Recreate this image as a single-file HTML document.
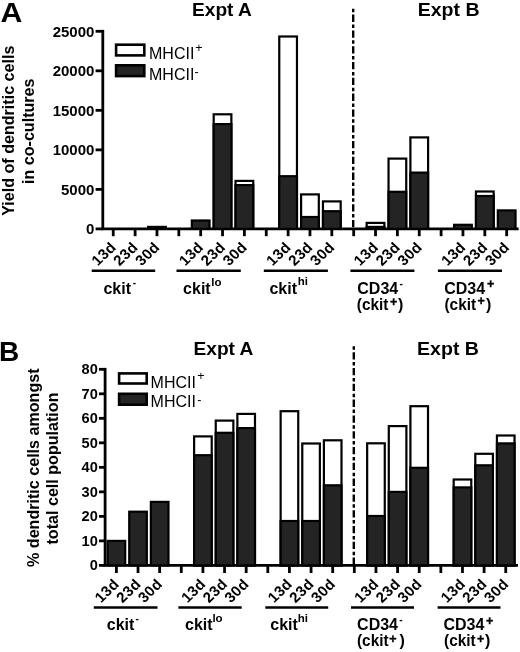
<!DOCTYPE html>
<html><head><meta charset="utf-8"><style>
html,body{margin:0;padding:0;background:#fff;}
svg{display:block;filter:grayscale(1);}
text{font-family:"Liberation Sans",sans-serif;fill:#000;}
.yl{font-weight:bold;font-size:15px;}
.yl2{font-weight:bold;font-size:14.6px;}
.xl{font-weight:bold;font-size:14.5px;letter-spacing:0.3px;}
.lg{font-size:15.4px;}
.sup{font-size:12.5px;}
.big{font-weight:bold;font-size:28px;}
.ex{font-weight:bold;font-size:18px;}
.yt{font-weight:bold;font-size:16.1px;}
.gl{font-weight:bold;font-size:16px;}
.gsup{font-size:11.5px;font-weight:bold;}
.gminus{font-size:10px;font-weight:bold;}
.gplus{font-size:12.5px;font-weight:bold;stroke:#000;stroke-width:0.35px;}
</style></head><body>
<svg width="520" height="652" viewBox="0 0 520 652">
<line x1="102.8" y1="29.900000000000002" x2="102.8" y2="228.9" stroke="#000" stroke-width="2.8"/>
<line x1="101.39999999999999" y1="228.9" x2="518.6" y2="228.9" stroke="#000" stroke-width="2.9"/>
<line x1="95.6" y1="228.90" x2="102.8" y2="228.90" stroke="#000" stroke-width="2.8"/>
<text x="94.4" y="234.20" text-anchor="end" class="yl">0</text>
<line x1="95.6" y1="189.38" x2="102.8" y2="189.38" stroke="#000" stroke-width="2.8"/>
<text x="94.4" y="194.68" text-anchor="end" class="yl">5000</text>
<line x1="95.6" y1="149.86" x2="102.8" y2="149.86" stroke="#000" stroke-width="2.8"/>
<text x="94.4" y="155.16" text-anchor="end" class="yl">10000</text>
<line x1="95.6" y1="110.34" x2="102.8" y2="110.34" stroke="#000" stroke-width="2.8"/>
<text x="94.4" y="115.64" text-anchor="end" class="yl">15000</text>
<line x1="95.6" y1="70.82" x2="102.8" y2="70.82" stroke="#000" stroke-width="2.8"/>
<text x="94.4" y="76.12" text-anchor="end" class="yl">20000</text>
<line x1="95.6" y1="31.30" x2="102.8" y2="31.30" stroke="#000" stroke-width="2.8"/>
<text x="94.4" y="36.60" text-anchor="end" class="yl">25000</text>
<rect x="104.40" y="228.90" width="17.70" height="-0.00" fill="#242424" stroke="#000" stroke-width="2.2"/>
<rect x="126.26" y="228.90" width="17.70" height="-0.00" fill="#242424" stroke="#000" stroke-width="2.2"/>
<rect x="148.11" y="226.90" width="17.70" height="2.00" fill="#242424" stroke="#000" stroke-width="2.2"/>
<rect x="191.83" y="220.50" width="17.70" height="8.40" fill="#242424" stroke="#000" stroke-width="2.2"/>
<rect x="213.68" y="114.30" width="17.70" height="114.60" fill="#fff" stroke="#000" stroke-width="2.2"/>
<rect x="213.68" y="124.10" width="17.70" height="104.80" fill="#242424" stroke="#000" stroke-width="2.2"/>
<rect x="235.54" y="180.90" width="17.70" height="48.00" fill="#fff" stroke="#000" stroke-width="2.2"/>
<rect x="235.54" y="185.10" width="17.70" height="43.80" fill="#242424" stroke="#000" stroke-width="2.2"/>
<rect x="279.26" y="36.50" width="17.70" height="192.40" fill="#fff" stroke="#000" stroke-width="2.2"/>
<rect x="279.26" y="176.20" width="17.70" height="52.70" fill="#242424" stroke="#000" stroke-width="2.2"/>
<rect x="301.11" y="194.40" width="17.70" height="34.50" fill="#fff" stroke="#000" stroke-width="2.2"/>
<rect x="301.11" y="217.00" width="17.70" height="11.90" fill="#242424" stroke="#000" stroke-width="2.2"/>
<rect x="322.97" y="201.40" width="17.70" height="27.50" fill="#fff" stroke="#000" stroke-width="2.2"/>
<rect x="322.97" y="211.20" width="17.70" height="17.70" fill="#242424" stroke="#000" stroke-width="2.2"/>
<rect x="366.68" y="222.90" width="17.70" height="6.00" fill="#fff" stroke="#000" stroke-width="2.2"/>
<rect x="366.68" y="226.90" width="17.70" height="2.00" fill="#242424" stroke="#000" stroke-width="2.2"/>
<rect x="388.54" y="158.60" width="17.70" height="70.30" fill="#fff" stroke="#000" stroke-width="2.2"/>
<rect x="388.54" y="191.80" width="17.70" height="37.10" fill="#242424" stroke="#000" stroke-width="2.2"/>
<rect x="410.40" y="137.40" width="17.70" height="91.50" fill="#fff" stroke="#000" stroke-width="2.2"/>
<rect x="410.40" y="172.60" width="17.70" height="56.30" fill="#242424" stroke="#000" stroke-width="2.2"/>
<rect x="454.11" y="224.80" width="17.70" height="4.10" fill="#242424" stroke="#000" stroke-width="2.2"/>
<rect x="475.97" y="191.50" width="17.70" height="37.40" fill="#fff" stroke="#000" stroke-width="2.2"/>
<rect x="475.97" y="196.00" width="17.70" height="32.90" fill="#242424" stroke="#000" stroke-width="2.2"/>
<rect x="497.83" y="210.40" width="17.70" height="18.50" fill="#242424" stroke="#000" stroke-width="2.2"/>
<line x1="113.25" y1="228.9" x2="113.25" y2="236.2" stroke="#000" stroke-width="2.8"/>
<line x1="135.11" y1="228.9" x2="135.11" y2="236.2" stroke="#000" stroke-width="2.8"/>
<line x1="156.96" y1="228.9" x2="156.96" y2="236.2" stroke="#000" stroke-width="2.8"/>
<line x1="178.82" y1="228.9" x2="178.82" y2="236.2" stroke="#000" stroke-width="2.8"/>
<line x1="200.68" y1="228.9" x2="200.68" y2="236.2" stroke="#000" stroke-width="2.8"/>
<line x1="222.53" y1="228.9" x2="222.53" y2="236.2" stroke="#000" stroke-width="2.8"/>
<line x1="244.39" y1="228.9" x2="244.39" y2="236.2" stroke="#000" stroke-width="2.8"/>
<line x1="266.25" y1="228.9" x2="266.25" y2="236.2" stroke="#000" stroke-width="2.8"/>
<line x1="288.11" y1="228.9" x2="288.11" y2="236.2" stroke="#000" stroke-width="2.8"/>
<line x1="309.96" y1="228.9" x2="309.96" y2="236.2" stroke="#000" stroke-width="2.8"/>
<line x1="331.82" y1="228.9" x2="331.82" y2="236.2" stroke="#000" stroke-width="2.8"/>
<line x1="353.68" y1="228.9" x2="353.68" y2="236.2" stroke="#000" stroke-width="2.8"/>
<line x1="375.53" y1="228.9" x2="375.53" y2="236.2" stroke="#000" stroke-width="2.8"/>
<line x1="397.39" y1="228.9" x2="397.39" y2="236.2" stroke="#000" stroke-width="2.8"/>
<line x1="419.25" y1="228.9" x2="419.25" y2="236.2" stroke="#000" stroke-width="2.8"/>
<line x1="441.11" y1="228.9" x2="441.11" y2="236.2" stroke="#000" stroke-width="2.8"/>
<line x1="462.96" y1="228.9" x2="462.96" y2="236.2" stroke="#000" stroke-width="2.8"/>
<line x1="484.82" y1="228.9" x2="484.82" y2="236.2" stroke="#000" stroke-width="2.8"/>
<line x1="506.68" y1="228.9" x2="506.68" y2="236.2" stroke="#000" stroke-width="2.8"/>
<text transform="translate(116.95,248.20) scale(1.05,1) rotate(-45)" text-anchor="end" class="xl">13d</text>
<text transform="translate(138.81,248.20) scale(1.05,1) rotate(-45)" text-anchor="end" class="xl">23d</text>
<text transform="translate(160.66,248.20) scale(1.05,1) rotate(-45)" text-anchor="end" class="xl">30d</text>
<text transform="translate(204.38,248.20) scale(1.05,1) rotate(-45)" text-anchor="end" class="xl">13d</text>
<text transform="translate(226.23,248.20) scale(1.05,1) rotate(-45)" text-anchor="end" class="xl">23d</text>
<text transform="translate(248.09,248.20) scale(1.05,1) rotate(-45)" text-anchor="end" class="xl">30d</text>
<text transform="translate(291.81,248.20) scale(1.05,1) rotate(-45)" text-anchor="end" class="xl">13d</text>
<text transform="translate(313.66,248.20) scale(1.05,1) rotate(-45)" text-anchor="end" class="xl">23d</text>
<text transform="translate(335.52,248.20) scale(1.05,1) rotate(-45)" text-anchor="end" class="xl">30d</text>
<text transform="translate(379.23,248.20) scale(1.05,1) rotate(-45)" text-anchor="end" class="xl">13d</text>
<text transform="translate(401.09,248.20) scale(1.05,1) rotate(-45)" text-anchor="end" class="xl">23d</text>
<text transform="translate(422.95,248.20) scale(1.05,1) rotate(-45)" text-anchor="end" class="xl">30d</text>
<text transform="translate(466.66,248.20) scale(1.05,1) rotate(-45)" text-anchor="end" class="xl">13d</text>
<text transform="translate(488.52,248.20) scale(1.05,1) rotate(-45)" text-anchor="end" class="xl">23d</text>
<text transform="translate(510.38,248.20) scale(1.05,1) rotate(-45)" text-anchor="end" class="xl">30d</text>
<line x1="91.7" y1="270.8" x2="155.2" y2="270.8" stroke="#000" stroke-width="2.5"/>
<line x1="176.5" y1="270.8" x2="240.8" y2="270.8" stroke="#000" stroke-width="2.5"/>
<line x1="263.8" y1="270.8" x2="327.9" y2="270.8" stroke="#000" stroke-width="2.5"/>
<line x1="350.4" y1="270.8" x2="414.4" y2="270.8" stroke="#000" stroke-width="2.5"/>
<line x1="437.9" y1="270.8" x2="502" y2="270.8" stroke="#000" stroke-width="2.5"/>
<line x1="353.2" y1="8.7" x2="353.2" y2="228.9" stroke="#000" stroke-width="2.4" stroke-dasharray="3.5 2.4 7.3 2.6"/>
<rect x="116.1" y="44.699999999999996" width="28.2" height="10.700000000000005" fill="#fff" stroke="#000" stroke-width="2.6"/>
<rect x="116.1" y="65.3" width="28.2" height="10.800000000000006" fill="#242424" stroke="#000" stroke-width="2.6"/>
<text transform="translate(149.0,59.3) scale(1.0,1)" class="lg" style="font-size:16.0px">MHCII</text>
<text transform="translate(149.0,79.8) scale(1.0,1)" class="lg" style="font-size:16.0px">MHCII</text>
<text x="195.3" y="51.5" class="sup">+</text>
<text x="194.5" y="76" class="sup">-</text>
<text transform="translate(0.4,21.9) scale(1.08,1)" class="big">A</text>
<text transform="translate(192.0,16.4) scale(1.064,1)" class="ex">Expt A</text>
<text transform="translate(417.7,16.4) scale(1.085,1)" class="ex">Expt B</text>
<text transform="translate(14.4,130.75) rotate(-90)" text-anchor="middle" class="yt">Yield of dendritic cells</text>
<text transform="translate(33.7,131.25) rotate(-90)" text-anchor="middle" class="yt">in co-cultures</text>
<text transform="translate(103.4,293.5) scale(1.0,1)" class="gl">ckit</text>
<text transform="translate(183.1,293.5) scale(1.0,1)" class="gl">ckit</text>
<text transform="translate(269.4,293.5) scale(1.0,1)" class="gl">ckit</text>
<text transform="translate(357.3,293.5) scale(1.0,1)" class="gl">CD34</text>
<text transform="translate(444.2,293.5) scale(1.0,1)" class="gl">CD34</text>
<text transform="translate(356.8,310.3) scale(0.96,1)" class="gl">(ckit</text>
<text transform="translate(444.5,310.3) scale(0.96,1)" class="gl">(ckit</text>
<text x="132.7" y="286.3" class="gminus">-</text>
<text x="211.2" y="285.8" class="gsup">lo</text>
<text x="297.8" y="285.3" class="gsup">hi</text>
<text x="399.5" y="286.6" class="gminus">-</text>
<text x="487.0" y="287.6" class="gplus">+</text>
<text x="390.0" y="305.6" class="gplus">+</text>
<text x="477.6" y="305.4" class="gplus">+</text>
<text transform="translate(397.9,310.3) scale(1.0,1)" class="gl">)</text>
<text transform="translate(486.1,310.3) scale(1.0,1)" class="gl">)</text>
<line x1="105.1" y1="367.90000000000003" x2="105.1" y2="565.4" stroke="#000" stroke-width="2.8"/>
<line x1="103.69999999999999" y1="565.4" x2="518.0" y2="565.4" stroke="#000" stroke-width="2.6"/>
<line x1="99.0" y1="565.40" x2="105.1" y2="565.40" stroke="#000" stroke-width="2.8"/>
<text x="97.8" y="570.40" text-anchor="end" class="yl2">0</text>
<line x1="99.0" y1="540.89" x2="105.1" y2="540.89" stroke="#000" stroke-width="2.8"/>
<text x="97.8" y="545.89" text-anchor="end" class="yl2">10</text>
<line x1="99.0" y1="516.38" x2="105.1" y2="516.38" stroke="#000" stroke-width="2.8"/>
<text x="97.8" y="521.38" text-anchor="end" class="yl2">20</text>
<line x1="99.0" y1="491.86" x2="105.1" y2="491.86" stroke="#000" stroke-width="2.8"/>
<text x="97.8" y="496.86" text-anchor="end" class="yl2">30</text>
<line x1="99.0" y1="467.35" x2="105.1" y2="467.35" stroke="#000" stroke-width="2.8"/>
<text x="97.8" y="472.35" text-anchor="end" class="yl2">40</text>
<line x1="99.0" y1="442.84" x2="105.1" y2="442.84" stroke="#000" stroke-width="2.8"/>
<text x="97.8" y="447.84" text-anchor="end" class="yl2">50</text>
<line x1="99.0" y1="418.32" x2="105.1" y2="418.32" stroke="#000" stroke-width="2.8"/>
<text x="97.8" y="423.32" text-anchor="end" class="yl2">60</text>
<line x1="99.0" y1="393.81" x2="105.1" y2="393.81" stroke="#000" stroke-width="2.8"/>
<text x="97.8" y="398.81" text-anchor="end" class="yl2">70</text>
<line x1="99.0" y1="369.30" x2="105.1" y2="369.30" stroke="#000" stroke-width="2.8"/>
<text x="97.8" y="374.30" text-anchor="end" class="yl2">80</text>
<rect x="107.60" y="540.90" width="17.60" height="24.50" fill="#242424" stroke="#000" stroke-width="2.2"/>
<rect x="129.23" y="511.70" width="17.60" height="53.70" fill="#242424" stroke="#000" stroke-width="2.2"/>
<rect x="150.86" y="501.90" width="17.60" height="63.50" fill="#242424" stroke="#000" stroke-width="2.2"/>
<rect x="194.12" y="436.40" width="17.60" height="129.00" fill="#fff" stroke="#000" stroke-width="2.2"/>
<rect x="194.12" y="455.20" width="17.60" height="110.20" fill="#242424" stroke="#000" stroke-width="2.2"/>
<rect x="215.75" y="420.60" width="17.60" height="144.80" fill="#fff" stroke="#000" stroke-width="2.2"/>
<rect x="215.75" y="432.80" width="17.60" height="132.60" fill="#242424" stroke="#000" stroke-width="2.2"/>
<rect x="237.38" y="413.90" width="17.60" height="151.50" fill="#fff" stroke="#000" stroke-width="2.2"/>
<rect x="237.38" y="428.10" width="17.60" height="137.30" fill="#242424" stroke="#000" stroke-width="2.2"/>
<rect x="280.64" y="411.20" width="17.60" height="154.20" fill="#fff" stroke="#000" stroke-width="2.2"/>
<rect x="280.64" y="521.00" width="17.60" height="44.40" fill="#242424" stroke="#000" stroke-width="2.2"/>
<rect x="302.27" y="443.50" width="17.60" height="121.90" fill="#fff" stroke="#000" stroke-width="2.2"/>
<rect x="302.27" y="521.00" width="17.60" height="44.40" fill="#242424" stroke="#000" stroke-width="2.2"/>
<rect x="323.90" y="440.30" width="17.60" height="125.10" fill="#fff" stroke="#000" stroke-width="2.2"/>
<rect x="323.90" y="485.30" width="17.60" height="80.10" fill="#242424" stroke="#000" stroke-width="2.2"/>
<rect x="367.16" y="443.30" width="17.60" height="122.10" fill="#fff" stroke="#000" stroke-width="2.2"/>
<rect x="367.16" y="516.00" width="17.60" height="49.40" fill="#242424" stroke="#000" stroke-width="2.2"/>
<rect x="388.79" y="426.10" width="17.60" height="139.30" fill="#fff" stroke="#000" stroke-width="2.2"/>
<rect x="388.79" y="491.90" width="17.60" height="73.50" fill="#242424" stroke="#000" stroke-width="2.2"/>
<rect x="410.42" y="406.20" width="17.60" height="159.20" fill="#fff" stroke="#000" stroke-width="2.2"/>
<rect x="410.42" y="467.80" width="17.60" height="97.60" fill="#242424" stroke="#000" stroke-width="2.2"/>
<rect x="453.68" y="479.50" width="17.60" height="85.90" fill="#fff" stroke="#000" stroke-width="2.2"/>
<rect x="453.68" y="487.40" width="17.60" height="78.00" fill="#242424" stroke="#000" stroke-width="2.2"/>
<rect x="475.31" y="453.80" width="17.60" height="111.60" fill="#fff" stroke="#000" stroke-width="2.2"/>
<rect x="475.31" y="465.30" width="17.60" height="100.10" fill="#242424" stroke="#000" stroke-width="2.2"/>
<rect x="496.94" y="435.50" width="17.60" height="129.90" fill="#fff" stroke="#000" stroke-width="2.2"/>
<rect x="496.94" y="443.40" width="17.60" height="122.00" fill="#242424" stroke="#000" stroke-width="2.2"/>
<line x1="116.40" y1="565.4" x2="116.40" y2="573.0" stroke="#000" stroke-width="2.8"/>
<line x1="138.03" y1="565.4" x2="138.03" y2="573.0" stroke="#000" stroke-width="2.8"/>
<line x1="159.66" y1="565.4" x2="159.66" y2="573.0" stroke="#000" stroke-width="2.8"/>
<line x1="181.29" y1="565.4" x2="181.29" y2="573.0" stroke="#000" stroke-width="2.8"/>
<line x1="202.92" y1="565.4" x2="202.92" y2="573.0" stroke="#000" stroke-width="2.8"/>
<line x1="224.55" y1="565.4" x2="224.55" y2="573.0" stroke="#000" stroke-width="2.8"/>
<line x1="246.18" y1="565.4" x2="246.18" y2="573.0" stroke="#000" stroke-width="2.8"/>
<line x1="267.81" y1="565.4" x2="267.81" y2="573.0" stroke="#000" stroke-width="2.8"/>
<line x1="289.44" y1="565.4" x2="289.44" y2="573.0" stroke="#000" stroke-width="2.8"/>
<line x1="311.07" y1="565.4" x2="311.07" y2="573.0" stroke="#000" stroke-width="2.8"/>
<line x1="332.70" y1="565.4" x2="332.70" y2="573.0" stroke="#000" stroke-width="2.8"/>
<line x1="354.33" y1="565.4" x2="354.33" y2="573.0" stroke="#000" stroke-width="2.8"/>
<line x1="375.96" y1="565.4" x2="375.96" y2="573.0" stroke="#000" stroke-width="2.8"/>
<line x1="397.59" y1="565.4" x2="397.59" y2="573.0" stroke="#000" stroke-width="2.8"/>
<line x1="419.22" y1="565.4" x2="419.22" y2="573.0" stroke="#000" stroke-width="2.8"/>
<line x1="440.85" y1="565.4" x2="440.85" y2="573.0" stroke="#000" stroke-width="2.8"/>
<line x1="462.48" y1="565.4" x2="462.48" y2="573.0" stroke="#000" stroke-width="2.8"/>
<line x1="484.11" y1="565.4" x2="484.11" y2="573.0" stroke="#000" stroke-width="2.8"/>
<line x1="505.74" y1="565.4" x2="505.74" y2="573.0" stroke="#000" stroke-width="2.8"/>
<text transform="translate(120.10,585.10) scale(1.05,1) rotate(-45)" text-anchor="end" class="xl">13d</text>
<text transform="translate(141.73,585.10) scale(1.05,1) rotate(-45)" text-anchor="end" class="xl">23d</text>
<text transform="translate(163.36,585.10) scale(1.05,1) rotate(-45)" text-anchor="end" class="xl">30d</text>
<text transform="translate(206.62,585.10) scale(1.05,1) rotate(-45)" text-anchor="end" class="xl">13d</text>
<text transform="translate(228.25,585.10) scale(1.05,1) rotate(-45)" text-anchor="end" class="xl">23d</text>
<text transform="translate(249.88,585.10) scale(1.05,1) rotate(-45)" text-anchor="end" class="xl">30d</text>
<text transform="translate(293.14,585.10) scale(1.05,1) rotate(-45)" text-anchor="end" class="xl">13d</text>
<text transform="translate(314.77,585.10) scale(1.05,1) rotate(-45)" text-anchor="end" class="xl">23d</text>
<text transform="translate(336.40,585.10) scale(1.05,1) rotate(-45)" text-anchor="end" class="xl">30d</text>
<text transform="translate(379.66,585.10) scale(1.05,1) rotate(-45)" text-anchor="end" class="xl">13d</text>
<text transform="translate(401.29,585.10) scale(1.05,1) rotate(-45)" text-anchor="end" class="xl">23d</text>
<text transform="translate(422.92,585.10) scale(1.05,1) rotate(-45)" text-anchor="end" class="xl">30d</text>
<text transform="translate(466.18,585.10) scale(1.05,1) rotate(-45)" text-anchor="end" class="xl">13d</text>
<text transform="translate(487.81,585.10) scale(1.05,1) rotate(-45)" text-anchor="end" class="xl">23d</text>
<text transform="translate(509.44,585.10) scale(1.05,1) rotate(-45)" text-anchor="end" class="xl">30d</text>
<line x1="93.8" y1="607.5" x2="157.5" y2="607.5" stroke="#000" stroke-width="2.5"/>
<line x1="178.4" y1="607.5" x2="241.7" y2="607.5" stroke="#000" stroke-width="2.5"/>
<line x1="265.3" y1="607.5" x2="328.2" y2="607.5" stroke="#000" stroke-width="2.5"/>
<line x1="351" y1="607.5" x2="414" y2="607.5" stroke="#000" stroke-width="2.5"/>
<line x1="437.6" y1="607.5" x2="500.5" y2="607.5" stroke="#000" stroke-width="2.5"/>
<line x1="353.8" y1="346.3" x2="353.8" y2="565.4" stroke="#000" stroke-width="2.4" stroke-dasharray="3.5 2.4 7.3 2.6"/>
<rect x="119.1" y="373.40000000000003" width="27.599999999999998" height="10.099999999999989" fill="#fff" stroke="#000" stroke-width="2.6"/>
<rect x="119.1" y="393.8" width="27.599999999999998" height="10.9" fill="#242424" stroke="#000" stroke-width="2.6"/>
<text transform="translate(150.6,388.1) scale(1.0,1)" class="lg" style="font-size:16.0px">MHCII</text>
<text transform="translate(150.6,407.3) scale(1.0,1)" class="lg" style="font-size:16.0px">MHCII</text>
<text x="197.2" y="380" class="sup">+</text>
<text x="197.3" y="403.5" class="sup">-</text>
<text transform="translate(-0.9,360.8) scale(1.0,1)" class="big">B</text>
<text transform="translate(193.5,354.8) scale(1.064,1)" class="ex">Expt A</text>
<text transform="translate(417.1,354.8) scale(1.085,1)" class="ex">Expt B</text>
<text transform="translate(38.9,467.7) rotate(-90)" text-anchor="middle" class="yt">% dendritic cells amongst</text>
<text transform="translate(58.0,468.5) rotate(-90)" text-anchor="middle" class="yt">total cell population</text>
<text transform="translate(106.8,629.7) scale(1.0,1)" class="gl">ckit</text>
<text transform="translate(185,629.7) scale(1.0,1)" class="gl">ckit</text>
<text transform="translate(270.3,629.7) scale(1.0,1)" class="gl">ckit</text>
<text transform="translate(357.1,629.7) scale(1.0,1)" class="gl">CD34</text>
<text transform="translate(443.4,629.7) scale(1.0,1)" class="gl">CD34</text>
<text transform="translate(357.0,645.6) scale(0.96,1)" class="gl">(ckit</text>
<text transform="translate(444.1,645.6) scale(0.96,1)" class="gl">(ckit</text>
<text x="135.4" y="622.0" class="gminus">-</text>
<text x="212.4" y="622.3" class="gsup">lo</text>
<text x="297.7" y="622.3" class="gsup">hi</text>
<text x="399.3" y="622.5" class="gminus">-</text>
<text x="486.1" y="625.2" class="gplus">+</text>
<text x="389.2" y="643.0" class="gplus">+</text>
<text x="477.0" y="642.8" class="gplus">+</text>
<text transform="translate(399.4,645.6) scale(1.0,1)" class="gl">)</text>
<text transform="translate(485.1,645.6) scale(1.0,1)" class="gl">)</text>
</svg>
</body></html>
